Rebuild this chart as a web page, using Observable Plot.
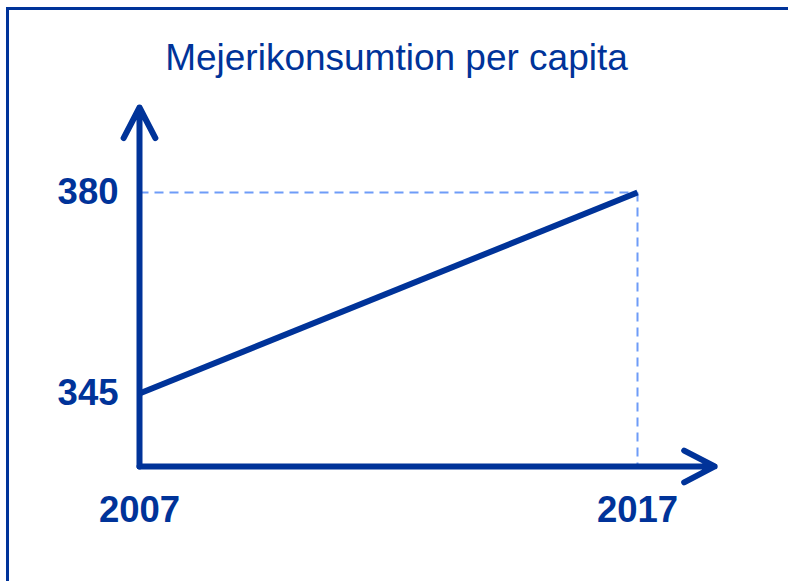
<!DOCTYPE html>
<html><head><meta charset="utf-8">
<script src="https://cdn.jsdelivr.net/npm/d3@7"></script>
<script src="https://cdn.jsdelivr.net/npm/@observablehq/plot@0.6"></script>
<style>
html,body{margin:0;padding:0;background:#fff;overflow:hidden;}
#wrap{position:relative;width:788px;height:581px;overflow:hidden;}
#border{position:absolute;left:6px;top:7px;width:900px;height:900px;border:3px solid #003399;box-sizing:border-box;pointer-events:none;}
#chart{position:absolute;left:0;top:0;}
</style></head><body>
<div id="wrap"><div id="border"></div><div id="chart"></div></div>
<script>
const title = "Mejerikonsumtion per capita";
const years = [2007, 2017];
const consumption = [345, 380];
const yearLabels = ["2007", "2017"];
const valueLabels = ["345", "380"];
// axis arrow extents, in data units
const axisXEnd = 2018.55;
const axisYBase = 332.3;
const axisYTop = 394.8;

const blue = "#003399";
const dashBlue = "#6e9cf8";
const font = "Liberation Sans, Arial, Helvetica, sans-serif";

const data = years.map((yr, i) => ({year: yr, value: consumption[i], yl: yearLabels[i], vl: valueLabels[i]}));

const guides = [
  {x1: years[0], y1: consumption[1], x2: years[1], y2: consumption[1]},
  {x1: years[1], y1: consumption[1], x2: years[1], y2: axisYBase}
];
const axes = [
  {x1: years[0], y1: axisYBase, x2: years[0], y2: axisYTop},
  {x1: years[0], y1: axisYBase, x2: axisXEnd, y2: axisYBase}
];

const chart = Plot.plot({
  width: 788,
  height: 581,
  margin: 0,
  style: {fontFamily: font, background: "transparent", overflow: "visible"},
  x: {domain: [2007, 2017], range: [139, 637], axis: null},
  y: {domain: [345, 380], range: [393, 192], axis: null},
  marks: [
    Plot.link(guides, {x1: "x1", y1: "y1", x2: "x2", y2: "y2", stroke: dashBlue, strokeWidth: 2, strokeDasharray: "9,6"}),
    Plot.line(data, {x: "year", y: "value", stroke: blue, strokeWidth: 6, strokeLinecap: "butt"}),
    Plot.arrow(axes, {x1: "x1", y1: "y1", x2: "x2", y2: "y2", stroke: blue, strokeWidth: 6, headLength: 8.6, headAngle: 55}),
    Plot.text(data, {x: () => years[0], y: "value", text: "vl", textAnchor: "end", dx: -21, fontSize: 36.5, fontWeight: "bold", fill: blue}),
    Plot.text(data, {x: "year", y: () => axisYBase, text: "yl", dy: 44, fontSize: 36.5, fontWeight: "bold", fill: blue}),
    Plot.text([title], {frameAnchor: "top", dy: 43, dx: 2, fontSize: 37, fill: blue})
  ]
});
document.getElementById("chart").appendChild(chart);
</script>
</body></html>
